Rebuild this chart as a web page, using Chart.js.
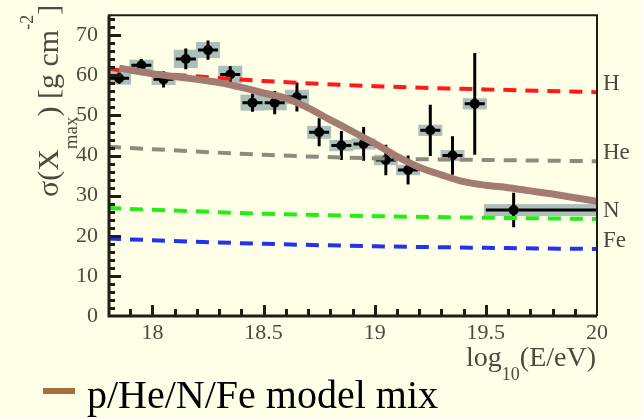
<!DOCTYPE html>
<html>
<head>
<meta charset="utf-8">
<title>sigma(Xmax) vs energy</title>
<script src="https://cdn.jsdelivr.net/npm/chart.js@4/dist/chart.umd.min.js"></script>
<style>
  html, body { margin: 0; padding: 0; background: #ffffe8; }
  canvas { display: block; }
</style>
</head>
<body>
<canvas id="xmax" width="643" height="419"></canvas>
<script>
// measured sigma(Xmax) per energy bin
var logE    = [17.85, 17.95, 18.05, 18.15, 18.25, 18.35, 18.45, 18.55, 18.65, 18.75, 18.85, 18.95, 19.05, 19.15, 19.25, 19.35, 19.45, 19.625];
var sigma   = [59.3, 62.5, 59.0, 64.1, 66.3, 60.2, 53.2, 53.2, 54.6, 45.8, 42.5, 42.9, 38.9, 36.4, 46.3, 40.0, 52.9, 26.4];
var statErr = [1.4, 1.6, 2.0, 2.6, 2.4, 2.1, 2.3, 2.9, 3.6, 3.5, 3.6, 4.2, 3.8, 3.6, 6.4, 4.8, 12.7, 4.3];
var sysErr  = [1.6, 1.4, 1.4, 2.3, 2.0, 2.2, 2.0, 1.9, 1.8, 1.6, 1.4, 1.4, 1.3, 1.3, 1.4, 1.4, 1.4, 1.5];
var xErrLo  = [0.045, 0.045, 0.045, 0.045, 0.045, 0.045, 0.045, 0.045, 0.045, 0.045, 0.045, 0.045, 0.045, 0.045, 0.045, 0.045, 0.045, 0.125];
var xErrHi  = [0.045, 0.045, 0.045, 0.045, 0.045, 0.045, 0.045, 0.045, 0.045, 0.045, 0.045, 0.045, 0.045, 0.045, 0.045, 0.045, 0.045, 0.375];

// pure-composition predictions
var modelE  = [17.8, 18.0, 18.5, 19.0, 19.5, 20.0];
var hModel  = [61.6, 60.6, 58.6, 57.3, 56.5, 55.8];
var heModel = [42.2, 41.6, 40.2, 39.3, 38.9, 38.6];
var nModel  = [26.9, 26.5, 25.5, 24.9, 24.5, 24.2];
var feModel = [19.3, 18.9, 18.0, 17.4, 17.0, 16.7];

// fitted p/He/N/Fe mixture
var mixE     = [17.85, 18.0, 18.1, 18.2, 18.3, 18.4, 18.5, 18.6, 18.7, 18.8, 18.9, 19.0, 19.1, 19.2, 19.3, 19.4, 19.5, 19.6, 19.7, 19.8, 19.9, 20.0];
var mixModel = [61.8, 60.4, 59.7, 59.0, 58.2, 57.0, 55.6, 54.3, 51.9, 48.9, 46.0, 43.0, 39.8, 37.1, 35.2, 33.5, 32.6, 32.0, 31.2, 30.4, 29.5, 28.6];

var modelNames = ['H', 'He', 'N', 'Fe'];
var xTicks = [18, 18.5, 19, 19.5, 20];
var yTicks = [0, 10, 20, 30, 40, 50, 60, 70];

var serif = '"Liberation Serif", "DejaVu Serif", serif';
var labelColor = '#4a4a3e';

function pts(xs, ys) {
    return ys.map(function (v, i) { return { x: xs[i], y: v }; });
}

function dashed(data, color) {
    return {
        data: data,
        showLine: true,
        borderColor: color,
        borderWidth: 4,
        borderDash: [13, 9],
        pointRadius: 0,
        tension: 0.4,
        cubicInterpolationMode: 'monotone'
    };
}

var decor = {
    id: 'decor',
    beforeDatasetsDraw: function (chart) {
        var ctx = chart.ctx, xs = chart.scales.x, ys = chart.scales.y, a = chart.chartArea;
        ctx.save();
        ctx.beginPath();
        ctx.rect(a.left, a.top, a.right - a.left, a.bottom - a.top);
        ctx.clip();
        // systematic boxes
        ctx.fillStyle = 'rgb(172,192,186)';
        for (var i = 0; i < logE.length; i++) {
            var l = xs.getPixelForValue(logE[i] - xErrLo[i]) - 2;
            var r = xs.getPixelForValue(logE[i] + xErrHi[i]) + 2;
            var t = ys.getPixelForValue(sigma[i] + sysErr[i]);
            var b = ys.getPixelForValue(sigma[i] - sysErr[i]);
            ctx.fillRect(l, t, r - l, b - t);
        }
        // statistical error bars
        ctx.strokeStyle = '#000';
        ctx.lineWidth = 3;
        for (var j = 0; j < logE.length; j++) {
            var px = xs.getPixelForValue(logE[j]);
            var py = ys.getPixelForValue(sigma[j]);
            ctx.beginPath();
            ctx.moveTo(xs.getPixelForValue(logE[j] - xErrLo[j]), py);
            ctx.lineTo(xs.getPixelForValue(logE[j] + xErrHi[j]), py);
            ctx.moveTo(px, ys.getPixelForValue(sigma[j] + statErr[j]));
            ctx.lineTo(px, ys.getPixelForValue(sigma[j] - statErr[j]));
            ctx.stroke();
        }
        ctx.restore();
    },
    afterDraw: function (chart) {
        var ctx = chart.ctx, xs = chart.scales.x, ys = chart.scales.y, a = chart.chartArea;
        ctx.save();
        ctx.strokeStyle = '#1e1e14';
        // frame
        ctx.lineWidth = 2;
        ctx.beginPath();
        ctx.moveTo(a.left, a.top);
        ctx.lineTo(a.right, a.top);
        ctx.lineTo(a.right, a.bottom);
        ctx.stroke();
        ctx.lineWidth = 3;
        ctx.beginPath();
        ctx.moveTo(a.left + 1, a.top);
        ctx.lineTo(a.left + 1, a.bottom);
        ctx.lineTo(a.right, a.bottom);
        ctx.stroke();

        // inward ticks
        ctx.lineWidth = 3;
        ctx.lineCap = 'butt';
        var y, x, v, k;
        for (v = 2; v < 75; v += 2) {
            y = Math.round(ys.getPixelForValue(v)) + 0.5;
            ctx.beginPath();
            ctx.moveTo(a.left, y);
            ctx.lineTo(a.left + ((v % 10 === 0) ? 13 : 7), y);
            ctx.stroke();
        }
        for (k = 1; k < 22; k++) {
            x = Math.round(xs.getPixelForValue(17.8 + k * 0.1)) + 0.5;
            ctx.beginPath();
            ctx.moveTo(x, a.bottom);
            ctx.lineTo(x, a.bottom - (((k - 2) % 5 === 0) ? 11 : 7));
            ctx.stroke();
        }

        // model names at the right edge
        ctx.fillStyle = labelColor;
        ctx.font = '23px ' + serif;
        ctx.textBaseline = 'middle';
        ctx.textAlign = 'left';
        var ends = [hModel, heModel, nModel, feModel];
        modelNames.forEach(function (name, i) {
            var last = ends[i][ends[i].length - 1];
            ctx.fillText(name, a.right + 6, ys.getPixelForValue(last) - 8);
        });

        // x axis title: log10(E/eV)
        ctx.textBaseline = 'alphabetic';
        ctx.font = '28px ' + serif;
        var wLog = ctx.measureText('log').width;
        var wPar = ctx.measureText('(E/eV)').width;
        ctx.font = '18px ' + serif;
        var wSub = ctx.measureText('10').width;
        var x0 = a.right - 1 - wLog - wSub - wPar;
        ctx.font = '28px ' + serif;
        ctx.fillText('log', x0, 366);
        ctx.fillText('(E/eV)', x0 + wLog + wSub, 366);
        ctx.font = '18px ' + serif;
        ctx.fillText('10', x0 + wLog, 380);

        // y axis title: sigma(X_max) [g cm^-2], reads bottom to top
        ctx.translate(58, 197);
        ctx.rotate(-Math.PI / 2);
        var parts = [
            ['\u03c3(X', 30, 0],
            ['max', 19, 19],
            [') [g cm', 30, 0],
            ['-2', 18, -25],
            [']', 30, 0]
        ];
        var u = 0;
        parts.forEach(function (p) {
            ctx.font = p[1] + 'px ' + serif;
            ctx.fillText(p[0], u, p[2]);
            u += ctx.measureText(p[0]).width;
        });
        ctx.restore();

        // legend
        ctx.save();
        ctx.fillStyle = '#a5703e';
        ctx.fillRect(43, 388, 32, 6);
        ctx.fillStyle = '#000';
        ctx.font = '40px ' + serif;
        ctx.textBaseline = 'alphabetic';
        ctx.fillText('p/He/N/Fe model mix', 87, 408);
        ctx.restore();
    }
};

new Chart(document.getElementById('xmax'), {
    type: 'scatter',
    data: {
        datasets: [
            {
                data: pts(mixE, mixModel),
                showLine: true,
                borderColor: '#a37b70',
                borderWidth: 7,
                pointRadius: 0,
                tension: 0.4,
                cubicInterpolationMode: 'monotone'
            },
            dashed(pts(modelE, hModel), '#ff1a1a'),
            dashed(pts(modelE, heModel), '#8c8c7e'),
            dashed(pts(modelE, nModel), '#22ee11'),
            dashed(pts(modelE, feModel), '#2233ee'),
            {
                data: pts(logE, sigma),
                pointRadius: 5,
                pointBackgroundColor: '#000',
                pointBorderWidth: 0,
                showLine: false
            }
        ]
    },
    options: {
        responsive: false,
        animation: false,
        layout: { padding: { left: 0, top: 9, right: 46, bottom: 0 } },
        plugins: { legend: { display: false }, tooltip: { enabled: false } },
        scales: {
            x: {
                type: 'linear',
                min: 17.8,
                max: 20,
                grid: { display: false },
                border: { display: false },
                afterBuildTicks: function (s) { s.ticks = xTicks.map(function (v) { return { value: v }; }); },
                afterFit: function (s) { s.height = 103; },
                ticks: {
                    font: { family: serif, size: 22 },
                    color: labelColor,
                    padding: -4,
                    maxRotation: 0,
                    callback: function (v) { return String(v); }
                }
            },
            y: {
                min: 0,
                max: 75,
                grid: { display: false },
                border: { display: false },
                afterBuildTicks: function (s) { s.ticks = yTicks.map(function (v) { return { value: v }; }); },
                afterFit: function (s) { s.width = 108; },
                ticks: {
                    font: { family: serif, size: 22 },
                    color: labelColor,
                    padding: 2,
                    callback: function (v) { return String(v); }
                }
            }
        }
    },
    plugins: [decor]
});
</script>
</body>
</html>
